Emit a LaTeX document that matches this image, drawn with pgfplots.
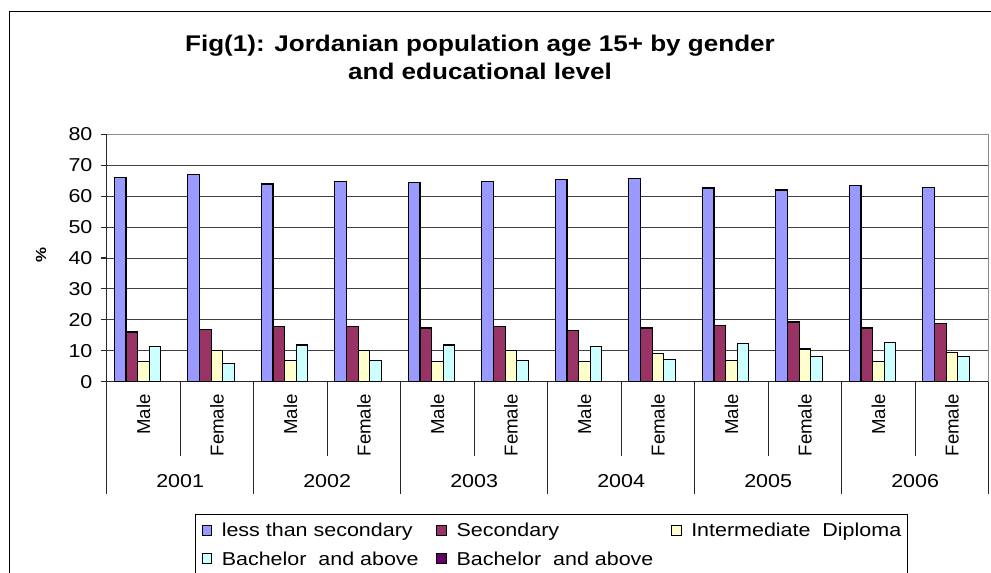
\documentclass[border=0pt]{standalone}
\usepackage{pgfplots}
\pgfplotsset{compat=1.18}
\usepackage{pgfplotstable}
\usepackage{fontspec}
\setmainfont{Liberation Sans}[FakeStretch=1.15]
\newfontfamily\narrowsans{Liberation Sans}

\definecolor{lessSec}{HTML}{9999FF}
\definecolor{secCol}{HTML}{993366}
\definecolor{interCol}{HTML}{FFFFCC}
\definecolor{bachCol}{HTML}{CCFFFF}
\definecolor{bachDark}{HTML}{660066}

% share (%) of population aged 15+ by educational level
% rows: 2001 Male, 2001 Female, ..., 2006 Female
\pgfplotstableread{
idx less  sec  inter bach
0   66.1  16.1  6.5  11.3
1   67.1  17.0 10.0   5.8
2   63.9  17.9  6.9  11.9
3   64.8  17.9 10.0   6.9
4   64.5  17.4  6.5  11.9
5   64.8  17.9 10.0   6.8
6   65.3  16.5  6.5  11.3
7   65.7  17.4  9.1   7.2
8   62.6  18.3  6.9  12.3
9   62.0  19.3 10.6   8.1
10  63.4  17.4  6.5  12.8
11  62.9  18.9  9.5   8.1
}\edudata

\begin{document}
\begin{tikzpicture}
\useasboundingbox (0,0) rectangle (743.25pt,-429.75pt);
% chart frame
\draw[line width=1.2pt] (7pt,-8.6pt) rectangle (780pt,-460pt);
% title
\node[font=\fontsize{17}{21}\selectfont\bfseries, align=center] at (360pt,-42.75pt)
  {Fig(1): Jordanian population age 15+ by gender\\and educational level};
% y label
\node[font=\fontsize{11}{12}\selectfont\bfseries, rotate=90] at (30.75pt,-191pt) {\%};

\begin{axis}[
  at={(80pt,-100.7pt)}, anchor=north west,
  scale only axis, width=661.5pt, height=185.6pt,
  xmin=-0.5, xmax=11.5, ymin=0, ymax=80,
  ytick={0,10,...,80}, xtick=\empty,
  axis lines=left, axis line style={-, black!85, line width=0.8pt},
  ymajorgrids, grid style={black!75, line width=0.7pt},
  tick align=outside, major tick length=4.5pt,
  tick style={black!85, line width=0.8pt},
  ytick pos=left,
  yticklabel style={font=\fontsize{14}{16}\selectfont, anchor=east, inner xsep=0pt, xshift=-6pt},
  /pgf/number format/assume math mode=true,
  clip=false,
  bar width=0.158,
  legend columns=3,
  legend image code/.code={\draw[#1, line width=0.75pt] (0pt,-2.2pt) rectangle (7.3pt,5.3pt);},
  legend style={at={(0.1001,-0.534)}, anchor=north west, draw=black, line width=0.75pt,
    font=\fontsize{14}{16}\selectfont, inner xsep=4.7pt, inner ysep=6.8pt,
    nodes={inner xsep=0pt, inner ysep=0pt, text height=10pt, text depth=3pt},
    /tikz/row sep=8.5pt,
    /tikz/every odd column/.append style={column sep=7pt}},
]
\addplot[ybar, bar shift=-0.316, fill=lessSec, draw=black, line width=0.9pt]
  table[x=idx, y=less] {\edudata};
\addlegendentry{\makebox[161pt][l]{less than secondary}}
\addplot[ybar, bar shift=-0.158, fill=secCol, draw=black, line width=0.9pt]
  table[x=idx, y=sec] {\edudata};
\addlegendentry{\makebox[161pt][l]{Secondary}}
\addplot[ybar, bar shift=0, fill=interCol, draw=black, line width=0.9pt]
  table[x=idx, y=inter] {\edudata};
\addlegendentry{Intermediate\ \ Diploma}
\addplot[ybar, bar shift=0.158, fill=bachCol, draw=black, line width=0.9pt]
  table[x=idx, y=bach] {\edudata};
\addlegendentry{\makebox[161pt][l]{Bachelor\ \ and above}}
\addlegendimage{fill=bachDark, draw=black}
\addlegendentry{\makebox[161pt][l]{Bachelor\ \ and above}}

% plot area border (top and right)
\draw[black!45, line width=0.8pt] (rel axis cs:0,1) -- (rel axis cs:1,1) -- (rel axis cs:1,0);
% category separators
\pgfplotsinvokeforeach{-0.5,1.5,3.5,5.5,7.5,9.5,11.5}{
  \draw[black!85, line width=0.8pt] (axis cs:#1,0) -- ++(0pt,-84pt);}
\pgfplotsinvokeforeach{0.5,2.5,4.5,6.5,8.5,10.5}{
  \draw[black!85, line width=0.8pt] (axis cs:#1,0) -- ++(0pt,-55.5pt);}
% gender labels
\pgfplotsinvokeforeach{0,2,4,6,8,10}{
  \node[font=\narrowsans\fontsize{14}{16}\selectfont, rotate=90, anchor=east, inner sep=0pt]
    at ([yshift=-9.1pt]axis cs:#1,0) {Male};}
\pgfplotsinvokeforeach{1,3,5,7,9,11}{
  \node[font=\narrowsans\fontsize{14}{16}\selectfont, rotate=90, anchor=east, inner sep=0pt]
    at ([yshift=-9.1pt]axis cs:#1,0) {Female};}
% year labels
\node[font=\fontsize{14}{16}\selectfont, anchor=base] at ([yshift=-79.1pt]axis cs:0.5,0) {2001};
\node[font=\fontsize{14}{16}\selectfont, anchor=base] at ([yshift=-79.1pt]axis cs:2.5,0) {2002};
\node[font=\fontsize{14}{16}\selectfont, anchor=base] at ([yshift=-79.1pt]axis cs:4.5,0) {2003};
\node[font=\fontsize{14}{16}\selectfont, anchor=base] at ([yshift=-79.1pt]axis cs:6.5,0) {2004};
\node[font=\fontsize{14}{16}\selectfont, anchor=base] at ([yshift=-79.1pt]axis cs:8.5,0) {2005};
\node[font=\fontsize{14}{16}\selectfont, anchor=base] at ([yshift=-79.1pt]axis cs:10.5,0) {2006};
\end{axis}
\end{tikzpicture}
\end{document}
